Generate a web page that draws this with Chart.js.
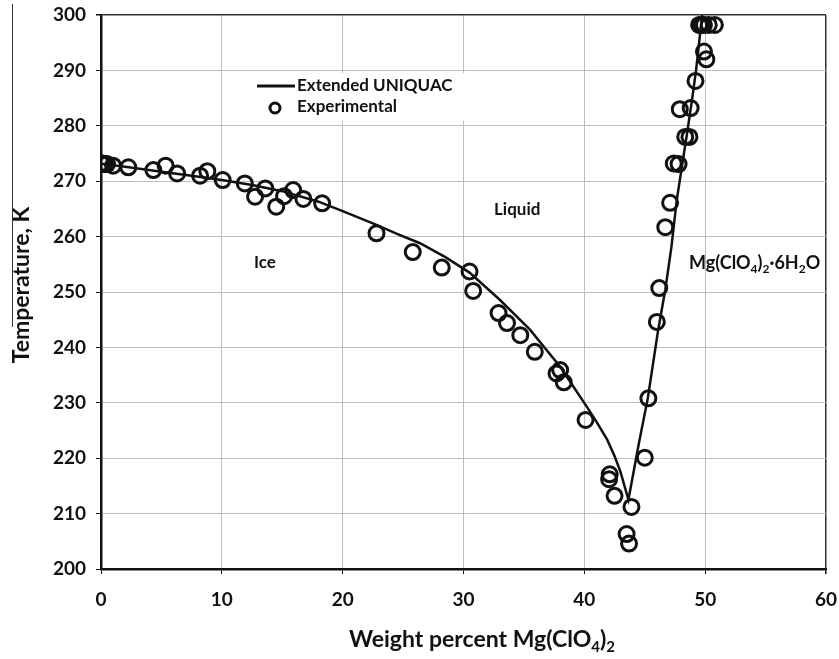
<!DOCTYPE html>
<html>
<head>
<meta charset="utf-8">
<script src="https://cdn.jsdelivr.net/npm/chart.js@4"></script>
<style>
  body { margin: 0; background: #fff; }
  #wrap { width: 839px; height: 659px; }
</style>
</head>
<body>
<div id="wrap"><canvas id="chart" width="839" height="659"></canvas></div>
<script>
// Extended UNIQUAC model curve (ice branch, then hydrate branch)
const lineX = [0, 2, 5, 7.5, 10, 12.5, 15, 18, 20, 22.8, 24.5, 26.4, 28.5, 30.5, 33, 35.5, 38, 40.2, 41, 41.9, 42.5, 43, 43.65,
               44.5, 45.25, 46.1, 46.7, 47.2, 47.65, 48.1, 48.5, 48.9, 49.25, 49.5, 49.75];
const lineT = [273.15, 272.6, 271.7, 271.0, 270.2, 269.3, 268.2, 266.3, 264.6, 262.1, 260.5, 258.8, 256.3, 253.5, 248.6, 243.2, 236.5, 229.3, 226.6, 223.3, 220.4, 217.5, 212.5,
               222.5, 230.8, 243.0, 250.4, 258.0, 266.6, 273.0, 278.6, 284.5, 290.1, 295.0, 300.0];

// Experimental points
const expX = [0, 0.15, 0.3, 0.5, 1.0, 2.26, 4.33, 5.35, 6.3, 8.2, 8.8, 10.07, 11.9, 12.75, 13.6, 14.5, 15.15, 15.9, 16.75, 18.3,
              22.8, 25.8, 28.2, 30.5, 30.8, 32.9, 33.6, 34.7, 35.9, 37.7, 38.0, 38.3, 40.1, 42.1, 42.05, 42.5, 43.9, 43.5, 43.7,
              45.0, 45.3, 46.0, 46.2, 46.7, 47.1, 47.4, 47.8, 47.9, 48.8, 48.35, 48.7, 49.2, 49.9, 50.1,
              49.5, 49.7, 49.9, 50.3, 50.8];
const expT = [273.2, 273.2, 273.1, 273.1, 272.8, 272.5, 272.0, 272.8, 271.4, 271.0, 271.8, 270.2, 269.6, 267.2, 268.7, 265.4, 267.3, 268.4, 266.8, 266.0,
              260.6, 257.2, 254.4, 253.7, 250.2, 246.2, 244.4, 242.2, 239.2, 235.3, 235.9, 233.7, 226.9, 217.1, 216.2, 213.2, 211.2, 206.3, 204.6,
              220.1, 230.8, 244.6, 250.7, 261.7, 266.1, 273.2, 273.1, 283.0, 283.2, 278.0, 278.0, 288.1, 293.4, 292.0,
              298.2, 298.2, 298.2, 298.2, 298.2];

const xTicks = [0, 10, 20, 30, 40, 50, 60];
const yTicks = [200, 210, 220, 230, 240, 250, 260, 270, 280, 290, 300];

const FONT = 'Lato, "Open Sans", sans-serif';
const INK = '#111';

// draws text made of [text, isSub] parts, anchored at x (left or center)
function richText(ctx, parts, x, y, size, center) {
    const subSize = Math.round(size * 0.65);
    let w = 0;
    parts.forEach(([t, sub]) => {
        ctx.font = `bold ${sub ? subSize : size}px ${FONT}`;
        w += ctx.measureText(t).width;
    });
    let cx = center ? x - w / 2 : x;
    ctx.textBaseline = 'alphabetic';
    ctx.textAlign = 'left';
    parts.forEach(([t, sub]) => {
        ctx.font = `bold ${sub ? subSize : size}px ${FONT}`;
        ctx.fillText(t, cx, sub ? y + size * 0.22 : y);
        cx += ctx.measureText(t).width;
    });
}

const decorations = {
    id: 'decorations',
    beforeDatasetsDraw(chart) {
        const ctx = chart.ctx;
        ctx.save();
        // white box behind the legend hides the grid
        ctx.fillStyle = '#fff';
        ctx.fillRect(252, 73, 222, 48);
        ctx.restore();
    },
    afterDatasetsDraw(chart) {
        const ctx = chart.ctx;
        ctx.save();
        ctx.fillStyle = INK;
        ctx.strokeStyle = INK;

        // legend
        ctx.lineWidth = 3;
        ctx.beginPath();
        ctx.moveTo(257, 86);
        ctx.lineTo(295, 86);
        ctx.stroke();
        ctx.beginPath();
        ctx.arc(275, 108, 5, 0, Math.PI * 2);
        ctx.stroke();
        ctx.font = `bold 17px ${FONT}`;
        ctx.textBaseline = 'middle';
        ctx.textAlign = 'left';
        ctx.fillText('Extended UNIQUAC', 297, 86);
        ctx.fillText('Experimental', 297, 107);

        // region labels
        ctx.font = `bold 17px ${FONT}`;
        ctx.fillText('Liquid', 494, 210);
        ctx.fillText('Ice', 254, 263);
        richText(ctx, [['Mg(ClO', false], ['4', true], [')', false], ['2', true], ['\u00b76H', false], ['2', true], ['O', false]], 689, 269, 18, false);

        // axis titles
        richText(ctx, [['Weight percent Mg(ClO', false], ['4', true], [')', false], ['2', true]], 482, 647, 23, true);
        ctx.translate(29, 285);
        ctx.rotate(-Math.PI / 2);
        ctx.font = `bold 23px ${FONT}`;
        ctx.textAlign = 'center';
        ctx.textBaseline = 'alphabetic';
        ctx.fillText('Temperature, K', 0, 0);
        ctx.restore();

        // stray rule at the left edge of the original figure
        ctx.save();
        ctx.strokeStyle = '#333';
        ctx.lineWidth = 1;
        ctx.beginPath();
        ctx.moveTo(12.5, 4);
        ctx.lineTo(12.5, 327);
        ctx.stroke();
        ctx.restore();
    }
};

const gridColor = (edge) => (c) => (c.tick && c.tick.value === edge ? '#333' : '#bdbdbd');
const gridWidth = (edge) => (c) => (c.tick && c.tick.value === edge ? 1.5 : 1);

new Chart(document.getElementById('chart'), {
    type: 'scatter',
    data: {
        datasets: [
            {
                label: 'Extended UNIQUAC',
                data: lineX.map((x, i) => ({ x, y: lineT[i] })),
                showLine: true,
                borderColor: INK,
                borderWidth: 2.5,
                pointRadius: 0,
                tension: 0
            },
            {
                label: 'Experimental',
                data: expX.map((x, i) => ({ x, y: expT[i] })),
                showLine: false,
                pointStyle: 'circle',
                pointRadius: 7.5,
                borderWidth: 3,
                borderColor: INK,
                backgroundColor: 'rgba(0,0,0,0)'
            }
        ]
    },
    options: {
        responsive: false,
        animation: false,
        layout: { padding: { top: 15, right: 13, left: 0, bottom: 0 } },
        plugins: { legend: { display: false }, tooltip: { enabled: false } },
        scales: {
            x: {
                type: 'linear',
                min: 0, max: 60,
                afterFit: (s) => { s.height = 90; s.paddingLeft = 0; s.paddingRight = 0; },
                afterBuildTicks: (s) => { s.ticks = xTicks.map(v => ({ value: v })); },
                ticks: { color: INK, font: { family: FONT, size: 19, weight: 'bold' }, padding: 14 },
                grid: { color: gridColor(60), lineWidth: gridWidth(60), tickColor: INK, tickLength: 5 },
                border: { color: INK, width: 2.5 }
            },
            y: {
                type: 'linear',
                min: 200, max: 300,
                afterFit: (s) => { s.width = 101; s.paddingTop = 0; s.paddingBottom = 0; },
                afterBuildTicks: (s) => { s.ticks = yTicks.map(v => ({ value: v })); },
                ticks: { color: INK, font: { family: FONT, size: 19, weight: 'bold' }, padding: 10 },
                grid: { color: gridColor(300), lineWidth: gridWidth(300), tickColor: INK, tickLength: 5 },
                border: { color: INK, width: 2.5 }
            }
        }
    },
    plugins: [decorations]
});
</script>
</body>
</html>
